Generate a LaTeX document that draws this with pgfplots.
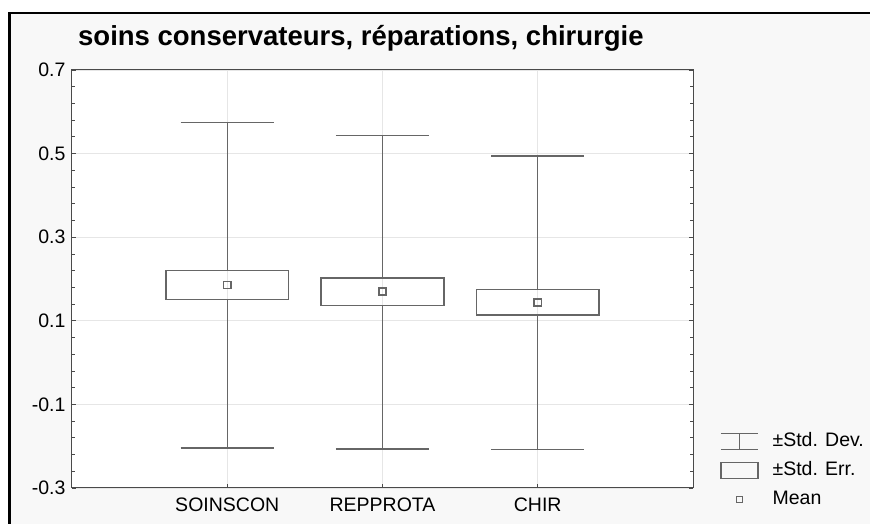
\documentclass[border=0pt]{standalone}
\usepackage{fontspec}
\setmainfont{Liberation Sans}
\usepackage{pgfplots}
\pgfplotsset{compat=1.18}
\usepgfplotslibrary{statistics}

\definecolor{bggray}{HTML}{F8F8F8}
\definecolor{gridgray}{HTML}{E6E6E6}
\definecolor{axgray}{HTML}{4A4A4A}
\definecolor{wgray}{HTML}{666666}

\begin{document}
\begin{tikzpicture}
% page: 870 x 524, axis box lower left at (0,0)
\useasboundingbox (-72pt,-36pt) rectangle (798pt,488pt);
\fill[white] (-72pt,-36pt) rectangle (798pt,488pt);
\fill[bggray] (-62.3pt,-36pt) rectangle (798pt,475.2pt);
\draw[black, line width=2.5pt] (-62.3pt,-36pt) -- (-62.3pt,475.2pt) -- (798pt,475.2pt);

\begin{axis}[
    name=ax,
    scale only axis, width=621pt, height=418pt,
    xmin=0, xmax=4, ymin=-0.3, ymax=0.7,
    xtick={1,2,3}, xticklabels={SOINSCON,REPPROTA,CHIR},
    xtick pos=left,
    ytick={-0.3,-0.1,0.1,0.3,0.5,0.7}, minor y tick num=4,
    ytick pos=both, yticklabel pos=left,
    tick align=inside, major tick length=4pt, minor tick length=3pt,
    grid=major, major grid style={draw=gridgray, line width=0.8pt},
    axis line style={draw=axgray, line width=1pt},
    every tick/.style={draw=axgray, line width=0.8pt},
    ticklabel style={font=\fontsize{19.5}{22}\selectfont},
    xticklabel style={yshift=-6pt},
    yticklabel style={xshift=-3pt, /pgf/number format/.cd, fixed, fixed zerofill, precision=1, assume math mode=true},
    axis background/.style={fill=white},
    boxplot/draw direction=y,
    boxplot/box extend=0.79,
    boxplot/whisker extend=0.6,
    boxplot/every median/.style={draw=none},
    boxplot/every average/.style={/tikz/mark=square, /tikz/mark size=3.6pt, /tikz/line width=1.4pt, /tikz/fill=white},
    legend style={at={(1,0)}, anchor=north west, xshift=27pt, yshift=57pt,
        draw=none, fill=none, inner sep=0pt, row sep=8pt,
        font=\fontsize{19.5}{22}\selectfont,
        nodes={inner sep=2pt, text height=13pt, text depth=4pt},
        /tikz/every odd column/.append style={column sep=12pt}},
    legend cell align=left,
]
% Std. Dev. / Std. Err. / Mean
\addplot[forget plot, draw=wgray, line width=1.4pt, boxplot prepared={draw position=1,
    lower whisker=-0.204, lower quartile=0.151, median=0.151,
    upper quartile=0.220, upper whisker=0.574, average=0.186}] coordinates {};
\addplot[forget plot, draw=wgray, line width=1.4pt, boxplot prepared={draw position=2,
    lower whisker=-0.207, lower quartile=0.137, median=0.137,
    upper quartile=0.202, upper whisker=0.543, average=0.170}] coordinates {};
\addplot[forget plot, draw=wgray, line width=1.4pt, boxplot prepared={draw position=3,
    lower whisker=-0.208, lower quartile=0.114, median=0.114,
    upper quartile=0.175, upper whisker=0.494, average=0.144}] coordinates {};

\addlegendimage{legend image code/.code={
    \draw[draw=wgray, line width=1.4pt] (0pt,8pt) -- (37pt,8pt) (0pt,-8pt) -- (37pt,-8pt) (18.5pt,8pt) -- (18.5pt,-8pt);}}
\addlegendentry{±Std. Dev.}
\addlegendimage{legend image code/.code={
    \draw[draw=wgray, line width=1.4pt] (0pt,-8pt) rectangle (37pt,8pt);}}
\addlegendentry{±Std. Err.}
\addlegendimage{legend image code/.code={
    \draw[draw=wgray, line width=1.4pt, mark=square, mark size=3pt] plot coordinates {(18.5pt,0pt)};}}
\addlegendentry{Mean}
\end{axis}

\node[anchor=base west, inner sep=0pt, font=\bfseries\fontsize{27.5}{32}\selectfont]
    at ([xshift=6pt, yshift=24pt]ax.north west) {soins conservateurs, réparations, chirurgie};
\end{tikzpicture}
\end{document}
